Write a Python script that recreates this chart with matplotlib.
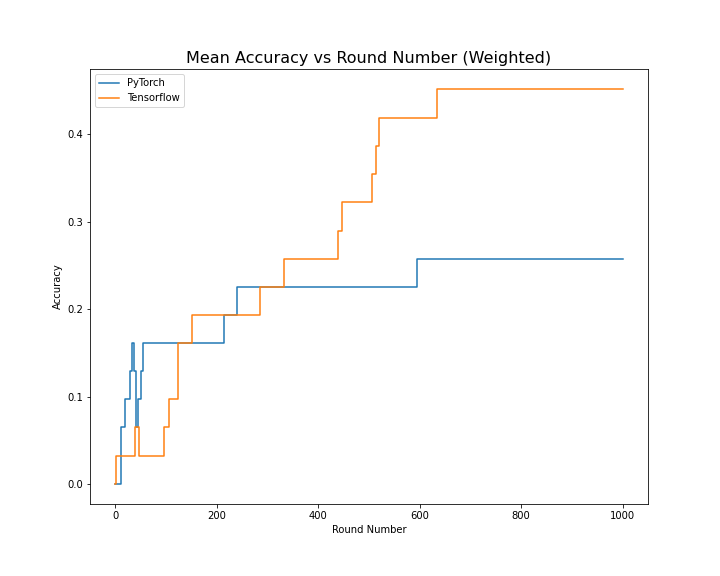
import matplotlib
matplotlib.use("Agg")
import matplotlib.pyplot as plt

# rounds where the accuracy changes, and the accuracy from that round on
pytorch_rounds = [0, 12, 19, 29, 33, 37, 40, 44, 51, 55, 214, 240, 594, 1000]
pytorch_acc = [0.0, 0.065, 0.097, 0.129, 0.161, 0.129, 0.065, 0.097, 0.129, 0.161,
               0.194, 0.226, 0.258, 0.258]

tf_rounds = [0, 1, 39, 46, 96, 106, 123, 151, 286, 332, 439, 446, 506, 514, 519, 634, 1000]
tf_acc = [0.0, 0.032, 0.065, 0.032, 0.065, 0.097, 0.161, 0.194, 0.226, 0.258,
          0.290, 0.323, 0.355, 0.387, 0.419, 0.452, 0.452]

fig = plt.figure(figsize=(10, 8), dpi=72)
fig.subplots_adjust(left=0.125, right=0.9, bottom=0.125, top=0.88)
ax = fig.add_subplot(111)

ax.plot(pytorch_rounds, pytorch_acc, drawstyle='steps-post', label='PyTorch')
ax.plot(tf_rounds, tf_acc, drawstyle='steps-post', label='Tensorflow')

ax.set_title('Mean Accuracy vs Round Number (Weighted)', fontsize=16)
ax.set_xlabel('Round Number')
ax.set_ylabel('Accuracy')
ax.set_xticks([0, 200, 400, 600, 800, 1000])
ax.set_yticks([0.0, 0.1, 0.2, 0.3, 0.4])
ax.legend(loc='upper left')

fig.savefig('out.png', dpi=72)
